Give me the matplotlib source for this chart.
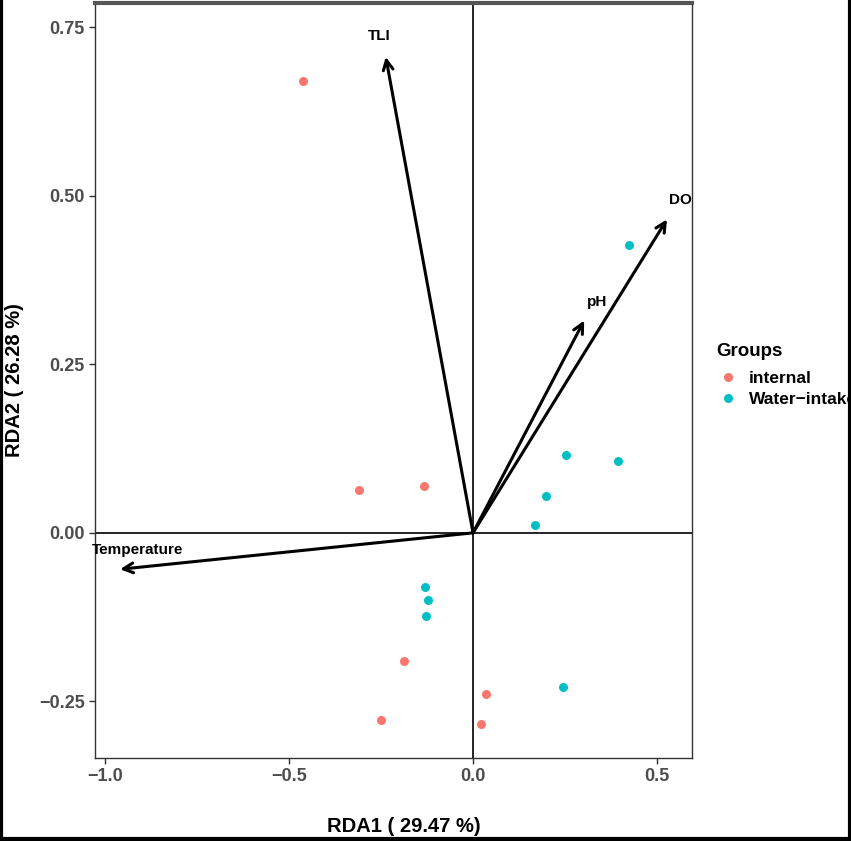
import matplotlib
matplotlib.use("Agg")
import matplotlib.pyplot as plt
from matplotlib.lines import Line2D

plt.rcParams['font.family'] = ['Liberation Sans Narrow', 'Liberation Sans', 'DejaVu Sans']

# site scores
internal_x = [-0.461, -0.310, -0.133, -0.188, 0.034, -0.251, 0.022]
internal_y = [0.671, 0.064, 0.070, -0.190, -0.239, -0.278, -0.283]
intake_x = [0.423, 0.252, 0.394, 0.198, 0.168, -0.131, -0.123, -0.128, 0.245]
intake_y = [0.427, 0.116, 0.107, 0.055, 0.012, -0.080, -0.100, -0.123, -0.228]

# environmental vectors
env_names = ['TLI', 'DO', 'pH', 'Temperature']
env_x = [-0.237, 0.527, 0.302, -0.959]
env_y = [0.706, 0.465, 0.315, -0.054]
label_x = [-0.256, 0.564, 0.338, -0.912]
label_y = [0.737, 0.494, 0.342, -0.025]

groups = ['internal', 'Water\u2212intake']
colors = ['#F8766D', '#00BFC4']

fig = plt.figure(figsize=(8.51, 8.41), dpi=100)
ax = fig.add_axes([95 / 851, 83 / 841, 597 / 851, 755 / 841])

ax.axhline(0, color='black', lw=1.2, zorder=1)
ax.axvline(0, color='black', lw=1.2, zorder=1)

ax.scatter(internal_x, internal_y, s=42, color=colors[0], zorder=3, linewidths=0)
ax.scatter(intake_x, intake_y, s=42, color=colors[1], zorder=3, linewidths=0)

for name, x, y, lx, ly in zip(env_names, env_x, env_y, label_x, label_y):
    ax.annotate('', xy=(x, y), xytext=(0, 0),
                arrowprops=dict(arrowstyle='->,head_length=0.7,head_width=0.35',
                                color='black', lw=2.2, shrinkA=0, shrinkB=0),
                zorder=2)
    ax.text(lx, ly, name, ha='center', va='center', fontsize=11,
            fontweight='bold', color='black')

ax.set_xlim(-1.027, 0.595)
ax.set_ylim(-0.334, 0.786)
ax.set_xticks([-1.0, -0.5, 0.0, 0.5])
ax.set_yticks([-0.25, 0.0, 0.25, 0.5, 0.75])
ax.set_xticklabels(['\u22121.0', '\u22120.5', '0.0', '0.5'])
ax.set_yticklabels(['\u22120.25', '0.00', '0.25', '0.50', '0.75'])
ax.tick_params(length=4, width=1, color='#333333', labelcolor='#4D4D4D', labelsize=13)
for lab in ax.get_xticklabels() + ax.get_yticklabels():
    lab.set_fontweight('bold')
for sp in ax.spines.values():
    sp.set_color('#333333')
    sp.set_linewidth(1.0)
ax.spines['top'].set_linewidth(3)
ax.spines['top'].set_color('#555555')

fig.text(404 / 851, 1 - 826 / 841, 'RDA1 ( 29.47 %)', ha='center', va='center',
         fontsize=14.5, fontweight='bold')
fig.text(15 / 851, 1 - 380 / 841, 'RDA2 ( 26.28 %)', ha='center', va='center',
         rotation=90, fontsize=14.5, fontweight='bold')

# legend
fig.text(716 / 851, 1 - 352 / 841, 'Groups', ha='left', va='center',
         fontsize=13.5, fontweight='bold')
handles = [Line2D([], [], marker='o', ls='', color=c, markersize=6.5, markeredgewidth=0)
           for c in colors]
leg = fig.legend(handles, groups, loc='upper left',
                 bbox_to_anchor=(718 / 851, 1 - 371 / 841), frameon=False,
                 fontsize=12.5, handletextpad=0.6,
                 handlelength=1.2, labelspacing=0.35, borderaxespad=0, borderpad=0)
for t in leg.get_texts():
    t.set_fontweight('bold')

# black frame on left, right and bottom of the image
fr = dict(color='black', lw=3, transform=fig.transFigure, clip_on=False)
fig.add_artist(Line2D([0.0015, 0.0015], [0, 1], **fr))
fig.add_artist(Line2D([0.9985, 0.9985], [0, 1], **fr))
fig.add_artist(Line2D([0, 1], [0.002, 0.002], **fr))

fig.savefig('out.png', dpi=100)
